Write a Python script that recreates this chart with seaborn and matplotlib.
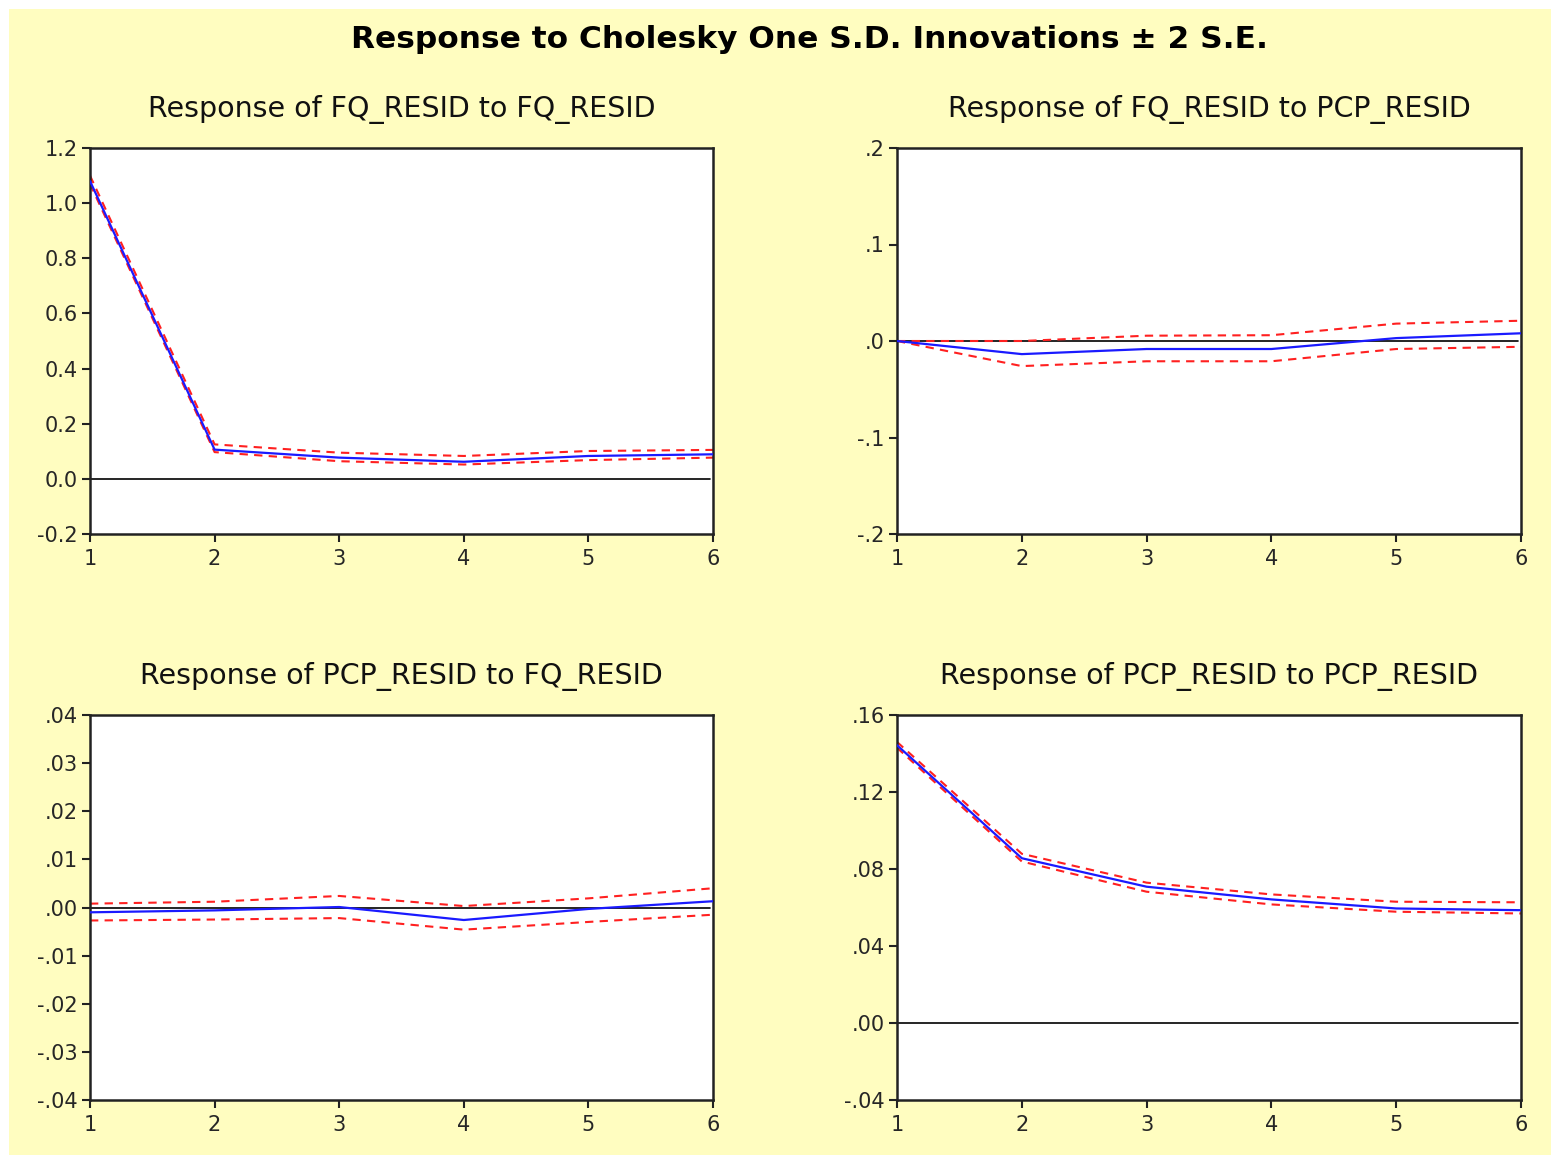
import numpy as np
import pandas as pd
import matplotlib
matplotlib.use("Agg")
import matplotlib.pyplot as plt
import seaborn as sns
from matplotlib.patches import Rectangle

sns.set_style("white")
plt.rcParams['font.family'] = ['DejaVu Sans']

periods = [1, 2, 3, 4, 5, 6]

fq_fq_resp = [1.08, 0.106, 0.077, 0.062, 0.083, 0.089]
fq_fq_upper = [1.10, 0.125, 0.095, 0.083, 0.101, 0.105]
fq_fq_lower = [1.07, 0.097, 0.064, 0.052, 0.068, 0.077]

fq_pcp_resp = [0.0, -0.0136, -0.0083, -0.0083, 0.003, 0.008]
fq_pcp_upper = [0.0, 0.0, 0.0055, 0.006, 0.018, 0.021]
fq_pcp_lower = [0.0, -0.026, -0.021, -0.021, -0.0083, -0.006]

pcp_fq_resp = [-0.001, -0.0006, 0.0001, -0.0026, -0.0003, 0.0013]
pcp_fq_upper = [0.0008, 0.0012, 0.0024, 0.0003, 0.0019, 0.004]
pcp_fq_lower = [-0.0027, -0.0025, -0.0022, -0.0046, -0.003, -0.0015]

pcp_pcp_resp = [0.1443, 0.0856, 0.0708, 0.0642, 0.0595, 0.0586]
pcp_pcp_upper = [0.146, 0.0879, 0.0729, 0.0668, 0.063, 0.0627]
pcp_pcp_lower = [0.143, 0.0839, 0.0682, 0.0616, 0.0578, 0.0569]

titles = ["Response of FQ_RESID to FQ_RESID",
          "Response of FQ_RESID to PCP_RESID",
          "Response of PCP_RESID to FQ_RESID",
          "Response of PCP_RESID to PCP_RESID"]

yticks_1 = [1.2, 1.0, 0.8, 0.6, 0.4, 0.2, 0.0, -0.2]
ylabels_1 = ["1.2", "1.0", "0.8", "0.6", "0.4", "0.2", "0.0", "-0.2"]
yticks_2 = [0.2, 0.1, 0.0, -0.1, -0.2]
ylabels_2 = [".2", ".1", ".0", "-.1", "-.2"]
yticks_3 = [0.04, 0.03, 0.02, 0.01, 0.0, -0.01, -0.02, -0.03, -0.04]
ylabels_3 = [".04", ".03", ".02", ".01", ".00", "-.01", "-.02", "-.03", "-.04"]
yticks_4 = [0.16, 0.12, 0.08, 0.04, 0.0, -0.04]
ylabels_4 = [".16", ".12", ".08", ".04", ".00", "-.04"]

panels = [
    (fq_fq_resp, fq_fq_upper, fq_fq_lower, yticks_1, ylabels_1),
    (fq_pcp_resp, fq_pcp_upper, fq_pcp_lower, yticks_2, ylabels_2),
    (pcp_fq_resp, pcp_fq_upper, pcp_fq_lower, yticks_3, ylabels_3),
    (pcp_pcp_resp, pcp_pcp_upper, pcp_pcp_lower, yticks_4, ylabels_4),
]

W, H = 1551, 1155
fig = plt.figure(figsize=(W / 100, H / 100), dpi=100)
fig.patch.set_facecolor("white")
fig.patches.append(Rectangle((9 / W, 0), 1 - 9 / W, 1 - 9 / H,
                             transform=fig.transFigure, facecolor="#FFFDC0",
                             edgecolor="none", zorder=-10))

positions = [
    (90, 148, 713, 534),
    (897, 148, 1521, 534),
    (90, 715, 713, 1100),
    (897, 715, 1521, 1100),
]

for (resp, up, lo, yt, yl), (x0, y0, x1, y1), title in zip(panels, positions, titles):
    ax = fig.add_axes([x0 / W, 1 - y1 / H, (x1 - x0) / W, (y1 - y0) / H])
    ax.set_zorder(1)
    ax.set_facecolor("white")
    df = pd.DataFrame({"period": periods, "resp": resp, "upper": up, "lower": lo})
    ax.axhline(0, xmax=0.995, color="black", lw=1.2, zorder=1)
    sns.lineplot(data=df, x="period", y="upper", ax=ax, color="#FF2020",
                 lw=1.5, linestyle=(0, (4, 3)), zorder=2)
    sns.lineplot(data=df, x="period", y="lower", ax=ax, color="#FF2020",
                 lw=1.5, linestyle=(0, (4, 3)), zorder=2)
    sns.lineplot(data=df, x="period", y="resp", ax=ax, color="#1A1AFF",
                 lw=1.6, zorder=3)
    ax.set_xlim(1, 6)
    ax.set_ylim(min(yt), max(yt))
    ax.set_xticks(periods)
    ax.set_xticklabels([str(p) for p in periods])
    ax.set_yticks(yt)
    ax.set_yticklabels(yl)
    ax.set_xlabel("")
    ax.set_ylabel("")
    for s in ax.spines.values():
        s.set_visible(True)
        s.set_color("#222222")
        s.set_linewidth(1.8)
    ax.tick_params(axis="both", which="major", direction="out", length=6,
                   width=1.5, color="#222222", labelsize=15, pad=3,
                   left=True, bottom=True)
    ax.tick_params(axis="x", pad=5)
    ax.set_title(title, fontsize=20.5, pad=22, color="#111111")

fig.text(0.522, 1 - 40 / H, "Response to Cholesky One S.D. Innovations \u00b1 2 S.E.",
         ha="center", va="center", fontsize=22.5, fontweight="bold", color="black")

fig.savefig("out.png", dpi=100, facecolor=fig.get_facecolor())
